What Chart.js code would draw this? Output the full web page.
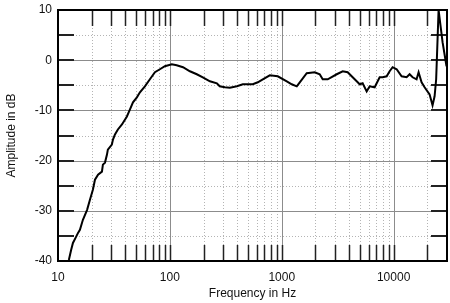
<!DOCTYPE html>
<html lang="en">
<head>
    <meta charset="UTF-8">
    <title>Frequency Response</title>
    <script src="https://cdn.jsdelivr.net/npm/chart.js"></script>
    <style>
        html, body {
            margin: 0;
            padding: 0;
            background: #fff;
        }
        #chartBox {
            width: 450px;
            height: 303px;
        }
    </style>
</head>
<body>
    <div id="chartBox">
        <canvas id="responseChart" width="450" height="303"></canvas>
    </div>

    <script>
        const freqHz = [
            12.5, 13.1, 13.6, 14.5, 15.1, 15.7, 16.7, 18.2, 19.3, 20.5,
            21.4, 22.8, 24.7, 25.2, 26.3, 27.4, 27.9, 30.3, 31.0, 32.3,
            34.3, 37.3, 41.3, 44.0, 46.8, 50.7, 54.0, 59.8, 66.3, 73.5,
            81.4, 90.2, 104, 115, 131, 151, 174, 197, 228, 263,
            279, 310, 344, 397, 449, 518, 551, 611, 677, 782,
            921, 1109, 1228, 1362, 1449, 1672, 1971, 2185, 2323, 2576,
            3100, 3508, 3884, 4306, 4775, 4970, 5286, 5743, 6110, 6767,
            7503, 7980, 8665, 9210, 9795, 10640, 11790, 13070, 13900, 14780,
            16040, 16720, 17780, 18920, 20960, 22280, 23240, 24000, 25230, 27380,
            29700
        ];
        const amplitudeDb = [
            -39.8, -37.8, -36.4, -35.2, -34.4, -33.8, -31.8, -29.8, -27.8, -25.8,
            -23.8, -22.8, -22.2, -20.8, -20.4, -18.8, -17.8, -16.8, -15.8, -14.8,
            -13.8, -12.8, -11.2, -9.8, -8.4, -7.4, -6.4, -5.2, -3.8, -2.4,
            -1.8, -1.2, -0.8, -1.0, -1.4, -2.2, -2.8, -3.4, -4.2, -4.6,
            -5.2, -5.4, -5.5, -5.2, -4.8, -4.8, -4.8, -4.4, -3.8, -3.0,
            -3.2, -4.2, -4.8, -5.2, -4.4, -2.6, -2.4, -2.8, -3.8, -3.8,
            -2.8, -2.2, -2.4, -3.4, -4.4, -4.8, -4.6, -6.2, -5.2, -5.4,
            -3.4, -3.4, -3.2, -2.2, -1.4, -1.8, -3.2, -3.4, -2.8, -3.4,
            -3.8, -2.4, -4.4, -5.4, -6.8, -9.0, -7.2, -3.8, 10.0, 3.6,
            -1.2
        ];

        // axis ticks and grid
        const xLabels = [10, 100, 1000, 10000];
        const xMajorGrid = [100, 1000, 10000];
        const xMinorGrid = [20, 30, 40, 50, 60, 70, 80, 90,
                            200, 300, 400, 500, 600, 700, 800, 900,
                            2000, 3000, 4000, 5000, 6000, 7000, 8000, 9000,
                            20000];
        const yLabels = [10, 0, -10, -20, -30, -40];
        const yMajorGrid = [0, -10, -20, -30];
        const yMinorGrid = [5, -5, -15, -25, -35];

        const tickLen = 16;

        const framePlugin = {
            id: 'frame',
            beforeDatasetsDraw(chart) {
                const { ctx, chartArea: a, scales: { x, y } } = chart;
                ctx.save();

                // dotted minor grid
                ctx.strokeStyle = '#b4b4b4';
                ctx.lineWidth = 1;
                ctx.setLineDash([1, 2]);
                xMinorGrid.forEach(v => {
                    const px = Math.round(x.getPixelForValue(v)) + 0.5;
                    ctx.beginPath(); ctx.moveTo(px, a.top); ctx.lineTo(px, a.bottom); ctx.stroke();
                });
                yMinorGrid.forEach(v => {
                    const py = Math.round(y.getPixelForValue(v)) + 0.5;
                    ctx.beginPath(); ctx.moveTo(a.left, py); ctx.lineTo(a.right, py); ctx.stroke();
                });

                // solid major grid
                ctx.setLineDash([]);
                ctx.strokeStyle = '#8c8c8c';
                xMajorGrid.forEach(v => {
                    const px = Math.round(x.getPixelForValue(v)) + 0.5;
                    ctx.beginPath(); ctx.moveTo(px, a.top); ctx.lineTo(px, a.bottom); ctx.stroke();
                });
                yMajorGrid.forEach(v => {
                    const py = Math.round(y.getPixelForValue(v)) + 0.5;
                    ctx.beginPath(); ctx.moveTo(a.left, py); ctx.lineTo(a.right, py); ctx.stroke();
                });

                // inward tick marks
                ctx.strokeStyle = '#222';
                ctx.lineWidth = 1.5;
                xMinorGrid.concat(xMajorGrid).forEach(v => {
                    const px = Math.round(x.getPixelForValue(v)) + 0.5;
                    ctx.beginPath();
                    ctx.moveTo(px, a.top); ctx.lineTo(px, a.top + tickLen);
                    ctx.moveTo(px, a.bottom); ctx.lineTo(px, a.bottom - tickLen);
                    ctx.stroke();
                });
                ctx.lineWidth = 2;
                yMinorGrid.concat(yMajorGrid).forEach(v => {
                    const py = Math.round(y.getPixelForValue(v));
                    ctx.beginPath();
                    ctx.moveTo(a.left, py); ctx.lineTo(a.left + tickLen, py);
                    ctx.moveTo(a.right, py); ctx.lineTo(a.right - tickLen, py);
                    ctx.stroke();
                });
                ctx.restore();
            },
            afterDatasetsDraw(chart) {
                const { ctx, chartArea: a } = chart;
                ctx.save();
                ctx.strokeStyle = '#000';
                ctx.lineWidth = 2;
                ctx.strokeRect(a.left, a.top, a.right - a.left, a.bottom - a.top);
                ctx.restore();
            }
        };

        const ctx = document.getElementById('responseChart').getContext('2d');
        new Chart(ctx, {
            type: 'line',
            data: {
                datasets: [{
                    data: freqHz.map((f, i) => ({ x: f, y: amplitudeDb[i] })),
                    borderColor: '#000',
                    borderWidth: 2,
                    pointRadius: 0,
                    tension: 0,
                    fill: false
                }]
            },
            options: {
                responsive: false,
                animation: false,
                layout: {
                    padding: { top: 10, right: 3, left: 0, bottom: 0 }
                },
                scales: {
                    x: {
                        type: 'logarithmic',
                        min: 10,
                        max: 30000,
                        grid: { display: false, drawTicks: false },
                        border: { display: false },
                        afterBuildTicks: scale => {
                            scale.ticks = xLabels.map(v => ({ value: v }));
                        },
                        afterFit: scale => {
                            scale.height = 42;
                            scale.paddingLeft = 0;
                            scale.paddingRight = 0;
                        },
                        ticks: {
                            padding: 9,
                            color: '#111',
                            maxRotation: 0,
                            autoSkip: false,
                            font: { family: 'Liberation Sans', size: 12 },
                            callback: value => String(value)
                        },
                        title: {
                            display: true,
                            text: 'Frequency in Hz',
                            color: '#111',
                            padding: { top: 0, bottom: 2 },
                            font: { family: 'Liberation Sans', size: 12 }
                        }
                    },
                    y: {
                        min: -40,
                        max: 10,
                        grid: { display: false, drawTicks: false },
                        border: { display: false },
                        afterBuildTicks: scale => {
                            scale.ticks = yLabels.map(v => ({ value: v }));
                        },
                        afterFit: scale => {
                            scale.width = 58;
                            scale.paddingTop = 0;
                            scale.paddingBottom = 0;
                        },
                        ticks: {
                            padding: 6,
                            color: '#111',
                            font: { family: 'Liberation Sans', size: 12 },
                            callback: value => String(value)
                        },
                        title: {
                            display: true,
                            text: 'Amplitude in dB',
                            color: '#111',
                            padding: { top: 4, bottom: 4 },
                            font: { family: 'Liberation Sans', size: 12 }
                        }
                    }
                },
                plugins: {
                    legend: { display: false },
                    tooltip: { enabled: false }
                }
            },
            plugins: [framePlugin]
        });
    </script>
</body>
</html>
